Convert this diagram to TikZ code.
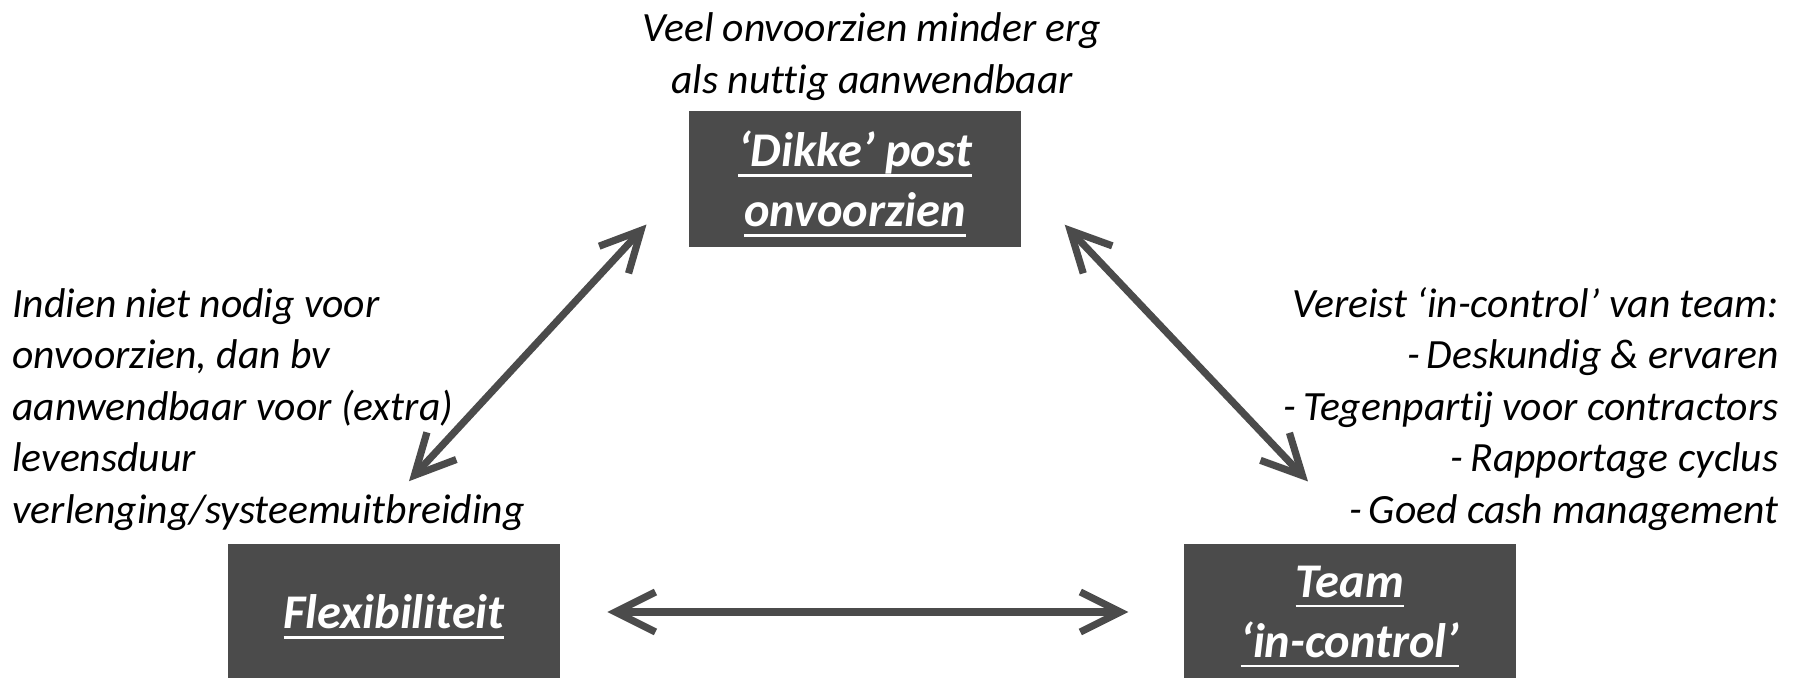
\documentclass[tikz,border=0pt]{standalone}
\usepackage{fontspec}
\setmainfont{Carlito}[Ligatures=NoCommon]
\usetikzlibrary{positioning, arrows.meta}
\definecolor{boxgray}{HTML}{4B4B4B}
\newcommand{\uln}[1]{\setbox0\hbox{#1}\rlap{\rule[-0.2em]{\wd0}{1.2pt}}\box0}

\begin{document}
\begin{tikzpicture}[
        x=0.5pt, y=-0.5pt,
        box/.style={rectangle, fill=boxgray, text=white, minimum width=166pt, minimum height=68pt, align=center, text depth=0pt, font=\fontsize{24.2}{30}\selectfont\bfseries\itshape},
        note/.style={inner sep=0pt, font=\fontsize{20.8}{25.75}\selectfont\itshape},
        barb/.tip={Straight Barb[length=20pt, width=20pt, line join=miter]},
        arrow/.style={barb-barb, line width=3.6pt, draw=boxgray}
    ]
    \useasboundingbox (0,0) rectangle (1796,678);

    \node[box] (flex) at (394,612) {\uln{Flexibiliteit}};
    \node[box, right=311.5pt of flex] (team) {\uln{Team}\\\uln{‘in-control’}};
    \node[box] (post) at (855,179) {\uln{‘Dikke’ post}\\\uln{onvoorzien}};

    \node[note, align=center, above=5pt of post, xshift=8.5pt] (postnote) {Veel onvoorzien minder erg\\als nuttig aanwendbaar};
    \node[note, align=left, anchor=north west] (flexnote) at (12,288) {Indien niet nodig voor\\onvoorzien, dan bv\\aanwendbaar voor (extra)\\levensduur\\verlenging/systeemuitbreiding};
    \node[note, align=right, anchor=north east] (teamnote) at (1779,287) {Vereist ‘in-control’ van team:\\-\,Deskundig \& ervaren\\-\,Tegenpartij voor contractors\\-\,Rapportage cyclus\\-\,Goed cash management};

    \draw[arrow, shorten <=42.5pt, shorten >=31pt] (flex.122) -- (post.west);
    \draw[arrow, shorten <=31.5pt, shorten >=42.8pt] (post.east) -- (team.76);
    \draw[arrow, shorten <=23.5pt, shorten >=27.5pt] (flex) -- (team);

\end{tikzpicture}
\end{document}
